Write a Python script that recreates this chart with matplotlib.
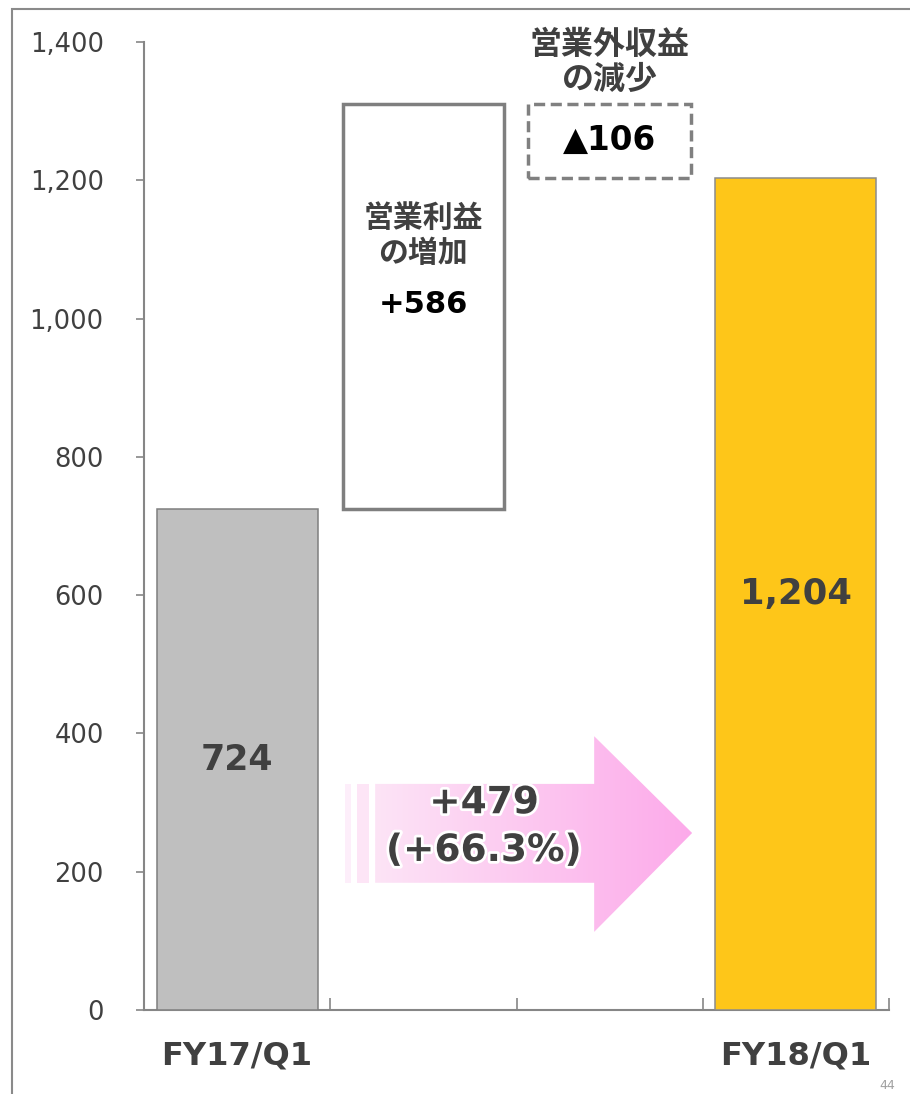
import numpy as np
import matplotlib.pyplot as plt
import matplotlib.patheffects as pe
from matplotlib.patches import Polygon, Rectangle
from matplotlib.ticker import FuncFormatter

plt.rcParams['font.family'] = ['DejaVu Sans', 'Noto Sans CJK JP']
JP = ['Noto Sans CJK JP', 'DejaVu Sans']

# --- datos ---
categorias = ['FY17/Q1', '', '', 'FY18/Q1']
valor_inicio = 724          # FY17/Q1
aumento_operativo = 586     # 営業利益の増加
baja_no_operativa = -106    # 営業外収益の減少
valor_final = 1204          # FY18/Q1
variacion = 479
variacion_pct = 66.3

alturas = [valor_inicio, aumento_operativo, -baja_no_operativa, valor_final]
bases = [0, valor_inicio, valor_inicio + aumento_operativo + baja_no_operativa, 0]
x = np.arange(len(categorias))

gris_txt = '#404040'
gris_linea = '#868686'

fig = plt.figure(figsize=(9.1, 10.94), dpi=100)
ax = fig.add_axes([144 / 910, 1 - 1010 / 1094, 745 / 910, 968 / 1094])

# barras sólidas
ax.bar(x[0], alturas[0], bottom=bases[0], width=0.865, color='#bfbfbf',
       edgecolor='#7f7f7f', linewidth=1.1, zorder=3)
ax.bar(x[3], alturas[3], bottom=bases[3], width=0.865, color='#fec619',
       edgecolor='#8c8c8c', linewidth=1.1, zorder=3)
ax.bar(x[1], alturas[1], bottom=bases[1], width=0.865, color='white',
       edgecolor='#7f7f7f', linewidth=2.5, zorder=3)
ax.bar(x[2], alturas[2], bottom=bases[2], width=0.875, color='white',
       edgecolor='#808080', linewidth=2.5, linestyle=(0, (3.2, 1.6)), zorder=3)

# flecha rosa con degradé
verts = [(0.741, 327), (1.917, 327), (1.917, 396), (2.443, 256),
         (1.917, 113), (1.917, 184), (0.741, 184)]
flecha = Polygon(verts, closed=True, facecolor='none', edgecolor='none', zorder=2)
ax.add_patch(flecha)
c0 = np.array([253, 228, 246]) / 255
c1 = np.array([252, 170, 234]) / 255
t = np.linspace(0, 1, 256)[None, :, None]
img = c0 + (c1 - c0) * t
im = ax.imshow(img, extent=[0.741, 2.443, 113, 396], aspect='auto', zorder=2)
im.set_clip_path(flecha)
ax.add_patch(Rectangle((0.58, 184), 0.032, 143, facecolor='#fdeefa', edgecolor='none', zorder=2))
ax.add_patch(Rectangle((0.644, 184), 0.065, 143, facecolor='#fde5f6', edgecolor='none', zorder=2))

glow = [pe.withStroke(linewidth=4, foreground='white')]
ax.text(1.326, 299, f'+{variacion}', ha='center', va='center', fontsize=27,
        fontweight='bold', color=gris_txt, path_effects=glow, zorder=4)
ax.text(1.326, 230, f'(+{variacion_pct}%)', ha='center', va='center', fontsize=27,
        fontweight='bold', color=gris_txt, path_effects=glow, zorder=4)

# etiquetas de barras
ax.text(x[0], 362, f'{valor_inicio:,}', ha='center', va='center', fontsize=25,
        fontweight='bold', color=gris_txt, zorder=4)
ax.text(x[3], 602, f'{valor_final:,}', ha='center', va='center', fontsize=25.5,
        fontweight='bold', color=gris_txt, zorder=4)

ax.text(x[1], 1145, '営業利益', ha='center', va='center', fontsize=21.5,
        fontweight='bold', color=gris_txt, family=JP, zorder=4)
ax.text(x[1], 1095, 'の増加', ha='center', va='center', fontsize=21.5,
        fontweight='bold', color=gris_txt, family=JP, zorder=4)
ax.text(x[1], 1020, f'+{aumento_operativo}', ha='center', va='center', fontsize=22,
        fontweight='bold', color='black', zorder=4)

ax.text(x[2], 1257, f'▲{-baja_no_operativa}', ha='center', va='center', fontsize=23.5,
        fontweight='bold', color='black', zorder=4)
ax.text(x[2], 1396, '営業外収益', ha='center', va='center', fontsize=23,
        fontweight='bold', color=gris_txt, family=JP, zorder=4, clip_on=False)
ax.text(x[2], 1345, 'の減少', ha='center', va='center', fontsize=23,
        fontweight='bold', color=gris_txt, family=JP, zorder=4)

# ejes
ax.set_xlim(-0.5, 3.5)
ax.set_ylim(0, 1400)
ax.set_yticks(np.arange(0, 1401, 200))
ax.yaxis.set_major_formatter(FuncFormatter(lambda v, p: f'{int(v):,}'))
ax.tick_params(axis='y', direction='out', length=6, width=1.2, colors=gris_linea,
               labelcolor=gris_txt, labelsize=18.5, pad=23)

ax.set_xticks([0, 3])
ax.set_xticklabels([categorias[0], categorias[3]], fontsize=23, fontweight='bold',
                   color=gris_txt)
ax.set_xticks(np.arange(-0.5, 3.6, 1), minor=True)
ax.tick_params(axis='x', which='major', length=0, pad=22)
ax.tick_params(axis='x', which='minor', direction='in', length=9, width=1.2,
               colors=gris_linea)

for s in ['top', 'right']:
    ax.spines[s].set_visible(False)
for s in ['left', 'bottom']:
    ax.spines[s].set_color(gris_linea)
    ax.spines[s].set_linewidth(1.5)

# marco de la diapositiva
fig.add_artist(Rectangle((12 / 910, -0.05), 1.0, 1 - 9 / 1094 + 0.05,
                         transform=fig.transFigure, fill=False,
                         edgecolor='#8a8a8a', linewidth=1.5))
fig.text(0.975, 0.002, '44', fontsize=9, color='#a0a0a0', ha='center', va='bottom')

fig.savefig('out.png', dpi=100)
